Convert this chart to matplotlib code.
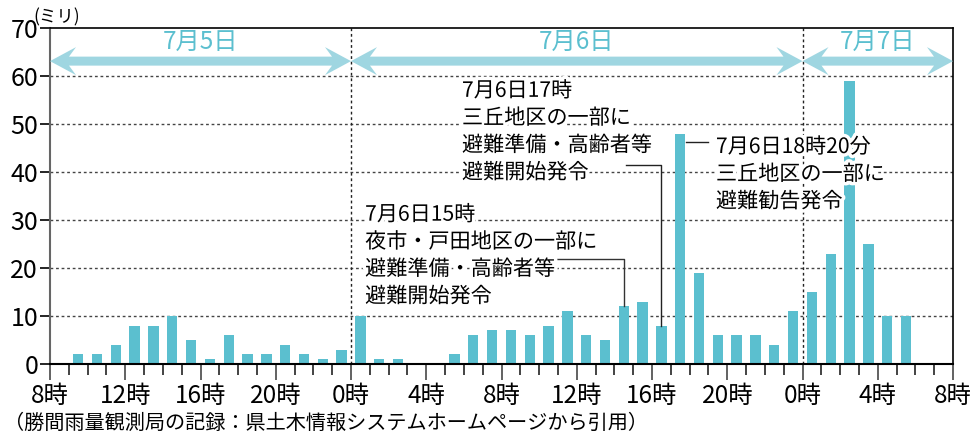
import matplotlib
matplotlib.use("Agg")
import matplotlib.pyplot as plt
import matplotlib.patheffects as pe
import numpy as np
from matplotlib.patches import Polygon
from matplotlib.transforms import IdentityTransform

plt.rcParams['font.family'] = ['Noto Sans CJK JP', 'DejaVu Sans']

# hourly rainfall (mm), 7/5 9時台 .. 7/7 5時台  (7/5 8時台 no record)
rain_0705 = [2, 2, 4, 8, 8, 10, 5, 1, 6, 2, 2, 4, 2, 1, 3]
rain_0706 = [10, 1, 1, 0, 0, 2, 6, 7, 7, 6, 8, 11, 6, 5, 12, 13, 8, 48, 19, 6, 6, 6, 4, 11]
rain_0707 = [15, 23, 59, 25, 10, 10]
rain = rain_0705 + rain_0706 + rain_0707
first_slot = 1

tick_hours = [8, 12, 16, 20, 0, 4, 8, 12, 16, 20, 0, 4, 8]
tick_labels = [f"{h}時" for h in tick_hours]

days = ["7月5日", "7月6日", "7月7日"]
day_edges = [0, 16, 40, 48]

note_15 = "7月6日15時\n夜市・戸田地区の一部に\n避難準備・高齢者等\n避難開始発令"
note_17 = "7月6日17時\n三丘地区の一部に\n避難準備・高齢者等\n避難開始発令"
note_1820 = "7月6日18時20分\n三丘地区の一部に\n避難勧告発令"

caption = "（勝間雨量観測局の記録：県土木情報システムホームページから引用）"

BAR = '#5bbfcf'
ARROW = '#9fd6e1'

fig = plt.figure(figsize=(9.75, 4.38), dpi=100)
ax = fig.add_axes([50/975, 74/438, 903/975, 336/438])

x = np.arange(len(rain)) + first_slot + 0.5
ax.bar(x, rain, width=0.55, color=BAR, zorder=2)

ax.set_xlim(0, 48)
ax.set_ylim(0, 70)

# grid
ax.set_yticks(range(0, 71, 10))
for v in range(10, 70, 10):
    ax.axhline(v, color='#444', lw=1, ls=(0, (2, 2)), zorder=1)
for d in day_edges[1:-1]:
    ax.axvline(d, color='#222', lw=1, ls=(0, (2, 2)), zorder=1)

ax.set_xticks(np.arange(0, 49, 4))
ax.set_xticklabels(tick_labels)
ax.set_xticks(np.arange(49), minor=True)
ax.tick_params(axis='x', which='major', length=11.5, width=1.3, color='#555',
               pad=2.5, labelsize=17.5)
ax.tick_params(axis='x', which='minor', length=8, width=1.2, color='#222')
ax.tick_params(axis='y', length=7.5, width=1.2, pad=1, labelsize=18)

for s in ['top', 'right', 'bottom']:
    ax.spines[s].set_color('black')
    ax.spines[s].set_linewidth(1.2)
ax.spines['bottom'].set_linewidth(1.5)
ax.spines['left'].set_color('#666')
ax.spines['left'].set_linewidth(1.5)

# day arrows (drawn in pixels so the heads keep their shape)
def day_arrow(x0, x1, y):
    (p0, yc), (p1, _) = ax.transData.transform([(x0, y), (x1, y)])
    L, J, H, T = 26, 19, 14, 4.5
    pts = [(p0, yc), (p0 + L, yc + H), (p0 + J, yc + T), (p1 - J, yc + T),
           (p1 - L, yc + H), (p1, yc), (p1 - L, yc - H), (p1 - J, yc - T),
           (p0 + J, yc - T), (p0 + L, yc - H)]
    fig.add_artist(Polygon(pts, closed=True, color=ARROW, lw=0,
                           transform=IdentityTransform(), zorder=3))

for name, a, b in zip(days, day_edges[:-1], day_edges[1:]):
    day_arrow(a, b, 63.1)
    ax.text((a + b) / 2, 67.2, name, color=BAR, fontsize=17.5, ha='center',
            va='center', zorder=4)

halo = [pe.withStroke(linewidth=5, foreground='white')]
kw = dict(fontsize=15.2, ha='left', va='top', linespacing=1.31,
          zorder=5, path_effects=halo)
ax.text(16.75, 33.4, note_15, **kw)
ax.text(21.9, 59.2, note_17, **kw)
ax.text(35.4, 47.5, note_1820, **kw)

ax.plot([26.85, 30.5, 30.5], [21.9, 21.9, rain[30 - first_slot]],
        color='#333', lw=1, zorder=4)
ax.plot([30.6, 32.5, 32.5], [41.5, 41.5, rain[32 - first_slot]],
        color='#222', lw=1, zorder=4)
ax.plot([33.8, 35.0], [46.3, 46.3], color='#222', lw=1, zorder=4)

fig.text(33/975, 1 - 17/438, "(ミリ)", fontsize=12.5, ha='left', va='center')
fig.text(4/975, 1 - 423/438, caption, fontsize=14.5, ha='left', va='center')

fig.savefig('out.png', dpi=100)
